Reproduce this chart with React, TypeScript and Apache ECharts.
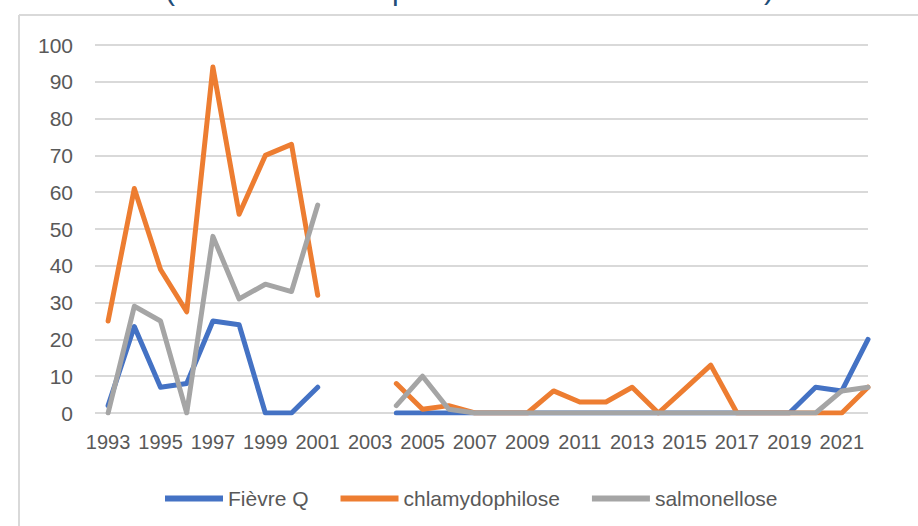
import React, { useEffect, useRef } from "react";
import * as echarts from "echarts";

const years: number[] = [
  1993, 1994, 1995, 1996, 1997, 1998, 1999, 2000, 2001, 2002, 2003, 2004, 2005, 2006, 2007,
  2008, 2009, 2010, 2011, 2012, 2013, 2014, 2015, 2016, 2017, 2018, 2019, 2020, 2021, 2022,
];
const labelYears: number[] = [1993, 1995, 1997, 1999, 2001, 2003, 2005, 2007, 2009, 2011, 2013, 2015, 2017, 2019, 2021];

const fievreQ: (number | null)[] = [
  2, 23.5, 7, 8, 25, 24, 0, 0, 7, null, null, 0, 0, 0, 0,
  0, 0, 0, 0, 0, 0, 0, 0, 0, 0, 0, 0, 7, 6, 20,
];
const chlamydophilose: (number | null)[] = [
  25, 61, 39, 27.5, 94, 54, 70, 73, 32, null, null, 8, 1, 2, 0,
  0, 0, 6, 3, 3, 7, 0, 6.5, 13, 0, 0, 0, 0, 0, 7,
];
const salmonellose: (number | null)[] = [
  0, 29, 25, 0, 48, 31, 35, 33, 56.5, null, null, 2, 10, 1, 0,
  0, 0, 0, 0, 0, 0, 0, 0, 0, 0, 0, 0, 0, 6, 7,
];

const seriesNames = ["Fièvre Q", "chlamydophilose", "salmonellose"];
const seriesColors = ["#4472C4", "#ED7D31", "#A5A5A5"];
const seriesValues = [fievreQ, chlamydophilose, salmonellose];

const FONT = "'Liberation Sans', Arial, sans-serif";

export default function App() {
  const ref = useRef<HTMLDivElement>(null);

  useEffect(() => {
    if (!ref.current) return;
    const chart = echarts.init(ref.current, undefined, { renderer: "svg" });
    chart.setOption({
      animation: false,
      backgroundColor: "#ffffff",
      graphic: [
        { type: "line", shape: { x1: 19, y1: 15, x2: 918, y2: 15 }, style: { stroke: "#D9D9D9", lineWidth: 2 } },
        { type: "line", shape: { x1: 19, y1: 15, x2: 19, y2: 526 }, style: { stroke: "#D9D9D9", lineWidth: 2 } },
        { type: "text", x: 165, y: -26, style: { text: "(", fontSize: 30, fill: "#1F4E79", fontFamily: FONT, verticalAlign: "top" } },
        { type: "text", x: 392, y: -26, style: { text: "p", fontSize: 30, fill: "#1F4E79", fontFamily: FONT, verticalAlign: "top" } },
        { type: "text", x: 764, y: -27, style: { text: ")", fontSize: 30, fill: "#1F4E79", fontFamily: FONT, verticalAlign: "top" } },
      ],
      grid: { left: 95, right: 50, top: 45, bottom: 113, containLabel: false },
      legend: {
        top: 483,
        left: 160,
        icon: "rect",
        itemWidth: 58,
        itemHeight: 6,
        itemGap: 32,
        textStyle: { fontSize: 21, color: "#595959", fontFamily: FONT },
        data: seriesNames,
      },
      xAxis: {
        type: "value",
        min: 1992.5,
        max: 2022,
        axisLine: { show: false },
        axisTick: { show: false },
        splitLine: { show: false },
        axisLabel: {
          customValues: labelYears,
          formatter: (v: number) => String(v),
          fontSize: 20,
          color: "#595959",
          fontFamily: FONT,
          margin: 19,
        },
      },
      yAxis: {
        type: "value",
        min: 0,
        max: 100,
        interval: 10,
        axisLine: { show: false },
        axisTick: { show: false },
        splitLine: { lineStyle: { color: "#D9D9D9", width: 2 } },
        axisLabel: { fontSize: 21, color: "#595959", fontFamily: FONT, margin: 22 },
      },
      series: seriesNames.map((name, si) => ({
        name,
        type: "line",
        symbol: "none",
        connectNulls: false,
        color: seriesColors[si],
        lineStyle: { width: 5, color: seriesColors[si], cap: "round", join: "round" },
        data: years.map((y, i) => [y, seriesValues[si][i] === null ? "-" : seriesValues[si][i]]),
      })),
    });
    return () => chart.dispose();
  }, []);

  return <div ref={ref} style={{ position: "fixed", left: 0, top: 0, width: 918, height: 526 }} />;
}
